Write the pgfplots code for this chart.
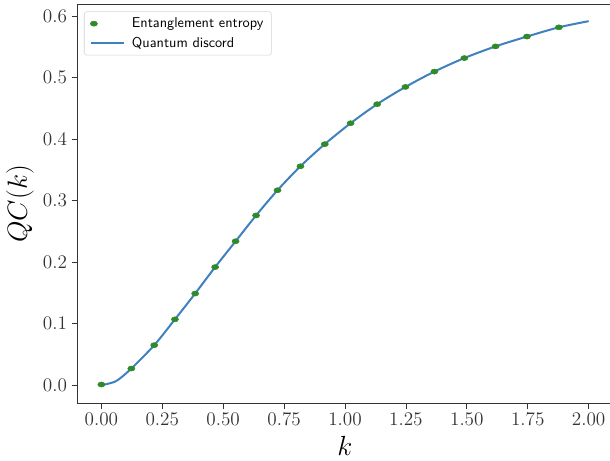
\documentclass[border=0pt]{standalone}
\usepackage{pgfplots}
\pgfplotsset{compat=1.18}
\definecolor{ptgreen}{HTML}{2F8A2A}
\definecolor{lineblue}{HTML}{3F80BE}
\definecolor{axgray}{HTML}{333333}
\pgfplotsset{
  dotlegend/.style={legend image code/.code={\draw[##1] plot coordinates {(2.5pt,0pt)};\path[draw=none,fill=none] (0pt,0pt) -- (29pt,0pt);}},
  linelegend/.style={legend image code/.code={\draw[##1] (0pt,0pt) -- (25pt,0pt);\path[draw=none,fill=none] (0pt,0pt) -- (29pt,0pt);}},
}
\begin{document}
\begin{tikzpicture}
\begin{axis}[
  scale only axis,
  width=402pt, height=299.25pt,
  xmin=-0.1, xmax=2.1,
  ymin=-0.0295, ymax=0.6195,
  xtick={0,0.25,0.5,0.75,1,1.25,1.5,1.75,2},
  ytick={0,0.1,0.2,0.3,0.4,0.5,0.6},
  xticklabel style={/pgf/number format/.cd,fixed,fixed zerofill,precision=2},
  yticklabel style={/pgf/number format/.cd,fixed,fixed zerofill,precision=1},
  tick label style={font=\fontsize{14.5}{17}\selectfont, text=axgray},
  tick align=outside,
  xtick pos=left, ytick pos=left,
  major tick length=4pt,
  tick style={axgray, line width=0.6pt},
  axis line style={axgray, line width=0.7pt},
  xlabel={$k$}, ylabel={$QC(k)$},
  every axis x label/.style={at={(axis description cs:0.5,-0.108)}, anchor=center, font=\fontsize{20}{24}\selectfont},
  every axis y label/.style={at={(axis description cs:-0.1063,0.5)}, rotate=90, anchor=center, font=\fontsize{20}{24}\selectfont},
  legend style={at={(axis description cs:0.013,0.982)}, anchor=north west,
    draw=gray!35, rounded corners=2pt, fill=white,
    font=\sffamily\fontsize{10.7}{12.5}\selectfont,
    row sep=1.5pt, inner xsep=4pt, inner ysep=2.5pt},
  legend cell align=left,
]
\addplot[only marks, mark=*, color=ptgreen, mark size=1.9pt, mark options={xscale=1.4}, dotlegend]
 coordinates {
(0.000,0.001) (0.123,0.027) (0.217,0.065) (0.302,0.107) (0.385,0.149)
(0.467,0.192) (0.551,0.234) (0.635,0.276) (0.723,0.317) (0.817,0.356)
(0.917,0.392) (1.023,0.426) (1.132,0.457) (1.248,0.485) (1.367,0.510)
(1.490,0.532) (1.618,0.551) (1.747,0.567) (1.878,0.582)
};
\addlegendentry{Entanglement entropy}
\addplot[lineblue, line width=1.5pt, smooth, no marks, linelegend]
 coordinates {
(0.000,0.000) (0.060,0.0065) (0.123,0.027) (0.217,0.065) (0.302,0.107) (0.385,0.149)
(0.467,0.192) (0.551,0.234) (0.635,0.276) (0.723,0.317) (0.817,0.356)
(0.917,0.392) (1.023,0.426) (1.132,0.457) (1.248,0.485) (1.367,0.510)
(1.490,0.532) (1.618,0.551) (1.747,0.567) (1.878,0.582) (2.000,0.592)
};
\addlegendentry{Quantum discord}
\end{axis}
\pgfresetboundingbox
\path[use as bounding box] ([shift={(-57.75pt,-42.75pt)}]current axis.south west) rectangle ([shift={(-2.25pt,3.2pt)}]current axis.north east);
\end{tikzpicture}
\end{document}
